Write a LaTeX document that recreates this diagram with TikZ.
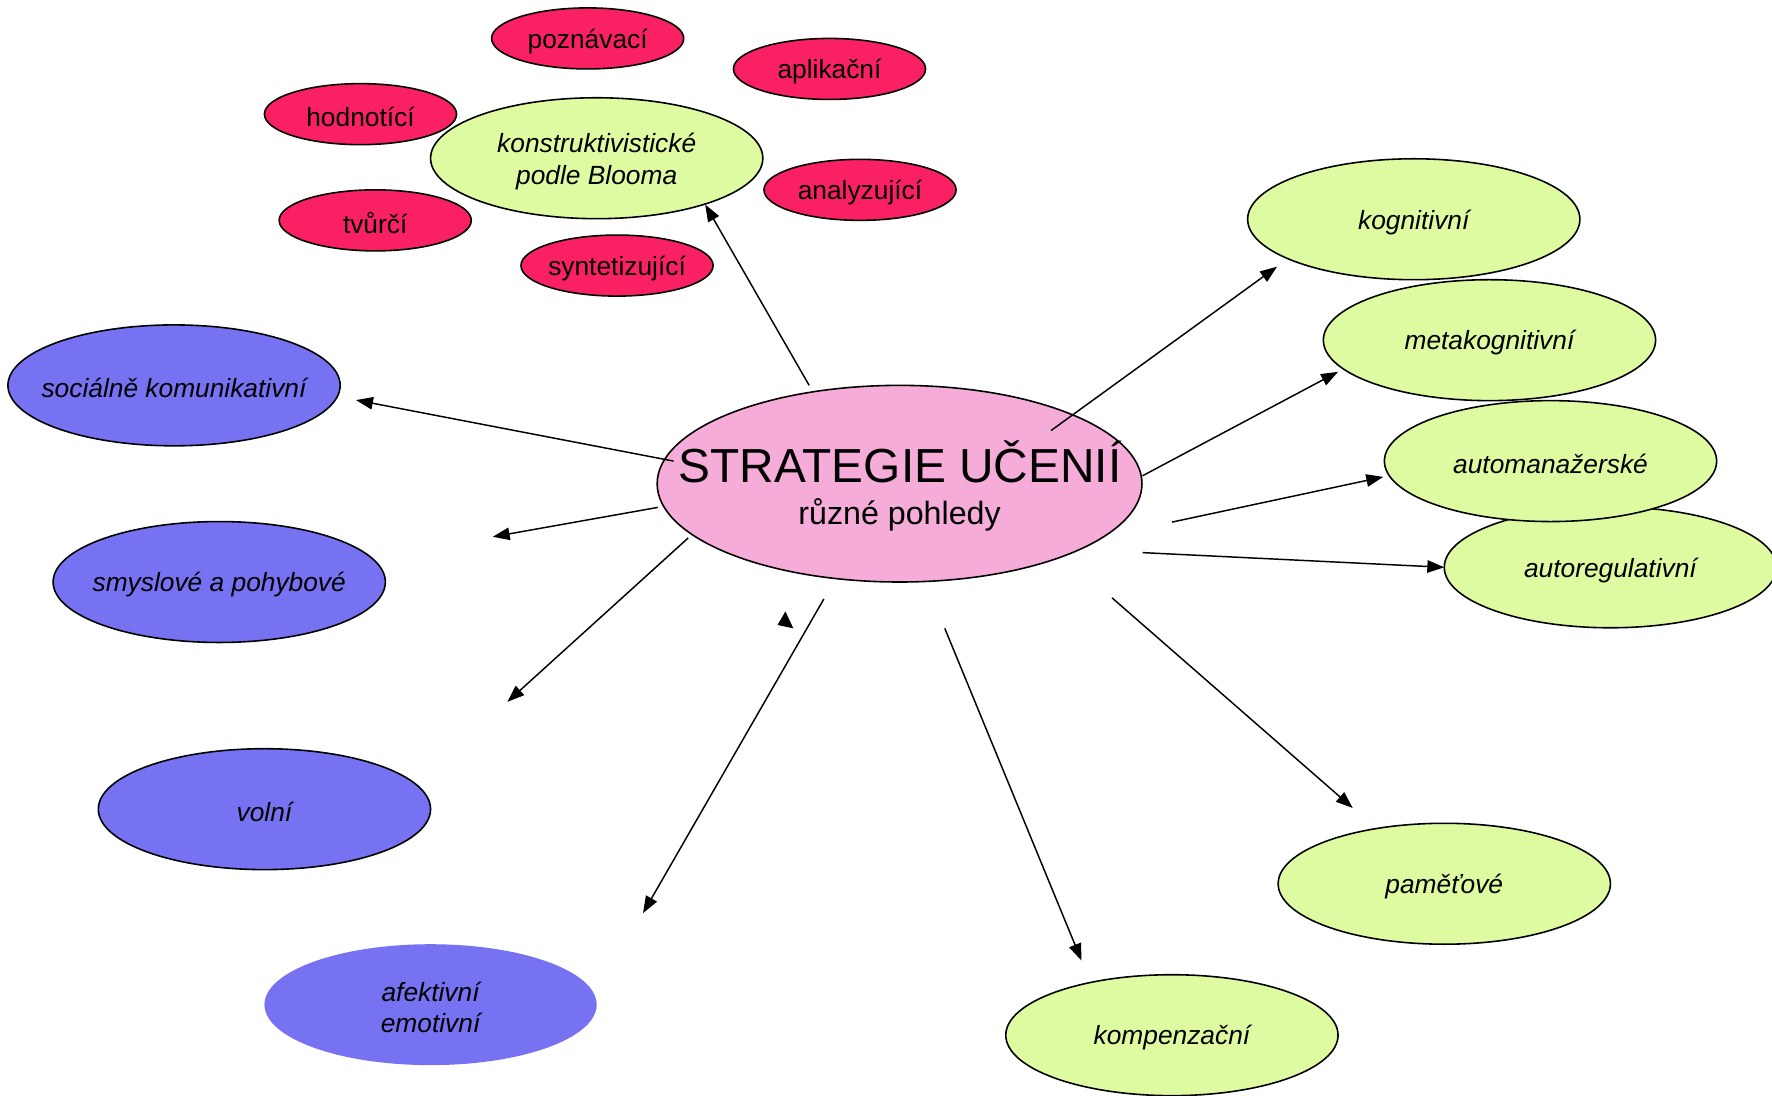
\documentclass[tikz,border=0pt]{standalone}
\usepackage{fontspec}
\setmainfont{Liberation Sans}
\usetikzlibrary{shapes.geometric,arrows.meta}
\definecolor{pinkc}{RGB}{245,172,216}
\definecolor{greenc}{RGB}{222,251,162}
\definecolor{redc}{RGB}{250,32,100}
\definecolor{bluec}{RGB}{118,114,242}
\newcommand\labfont{\fontsize{23.3}{28}\selectfont}
\begin{document}
\begin{tikzpicture}[x=1pt,y=-1pt,
  ell/.style={ellipse, draw=black, line width=1.4pt, inner sep=0pt,
    minimum width=294pt, minimum height=107pt},
  gell/.style={ell, fill=greenc, label={[font=\labfont\itshape, yshift=-2.5pt]center:#1}},
  bell/.style={ell, fill=bluec, label={[font=\labfont\itshape, yshift=-2.5pt]center:#1}},
  rell/.style={ell, fill=redc, minimum width=170pt, minimum height=54pt,
    label={[font=\labfont, yshift=-2.5pt]center:#1}},
  arr/.style={line width=1.3pt, -{Triangle[length=15pt,width=11pt]}}
]
\useasboundingbox[fill=white] (0,0) rectangle (1568,969);

% center
\node[ell, fill=pinkc, minimum width=429pt, minimum height=174pt] (c) at (796,428) {};
\node[anchor=base, font=\fontsize{42.3}{48}\selectfont, inner sep=0pt] (ctitle) at (796.5,427) {STRATEGIE UČENIÍ};
\node[anchor=base, font=\fontsize{28.5}{34}\selectfont, inner sep=0pt] (csub) at (796,464.5) {různé pohledy};

% Bloom
\node[ell, fill=greenc, label={[font=\labfont\itshape, align=center, yshift=-3pt]center:konstruktivistické\\podle Blooma}] (bloom) at (528,140) {};
\node[rell=poznávací] (poz) at (520,34) {};
\node[rell=aplikační] (apl) at (734,61) {};
\node[rell=hodnotící] (hod) at (319,101) {};
\node[rell=analyzující] (ana) at (761,168) {};
\node[rell=tvůrčí] (tvu) at (332,195) {};
\node[rell=syntetizující] (syn) at (546,235) {};

% right green
\node[gell=kognitivní] (kog) at (1251,194) {};
\node[gell=metakognitivní] (meta) at (1318,301) {};
\node[gell=autoregulativní] (autor) at (1425,502) {};
\node[gell=automanažerské] (autom) at (1372,408) {};
\node[gell=paměťové] (pam) at (1278,782) {};
\node[gell=kompenzační] (komp) at (1037,916) {};

% blue
\node[bell=sociálně komunikativní] (soc) at (154,341) {};
\node[bell=smyslové a pohybové] (smy) at (194,515) {};
\node[bell=volní] (vol) at (234,716) {};
\node[ell, draw=none, fill=bluec, label={[font=\labfont\itshape, align=center, yshift=-2.5pt]center:afektivní\\emotivní}] (afe) at (381,889) {};

% connector end points
\coordinate (a1s) at (716,341);  \coordinate (a1e) at (624,181);
\coordinate (a2s) at (596,408);  \coordinate (a2e) at (315,354);
\coordinate (a3s) at (582,449);  \coordinate (a3e) at (436,475);
\coordinate (a4s) at (609,476);  \coordinate (a4e) at (449,621);
\coordinate (a5s) at (729,530);  \coordinate (a5e) at (569,808);
\coordinate (a7s) at (836,556);  \coordinate (a7e) at (957,850);
\coordinate (a8s) at (984,529);  \coordinate (a8e) at (1197,715);
\coordinate (a9s) at (1011,489); \coordinate (a9e) at (1278,502);
\coordinate (a10s) at (1037,462); \coordinate (a10e) at (1224,422);
\coordinate (a11s) at (1011,421); \coordinate (a11e) at (1184,329);
\coordinate (a12s) at (930,381);  \coordinate (a12e) at (1130,236);

\draw[arr] (a1s) -- (a1e);
\draw[arr] (a2s) -- (a2e);
\draw[arr] (a3s) -- (a3e);
\draw[arr] (a4s) -- (a4e);
\draw[arr] (a5s) -- (a5e);
\draw[arr] (a7s) -- (a7e);
\draw[arr] (a8s) -- (a8e);
\draw[arr] (a9s) -- (a9e);
\draw[arr] (a10s) -- (a10e);
\draw[arr] (a11s) -- (a11e);
\draw[arr] (a12s) -- (a12e);

% stray arrowhead
\fill[black] (695,541) -- (688,553) -- (702,556) -- cycle;
\end{tikzpicture}
\end{document}
